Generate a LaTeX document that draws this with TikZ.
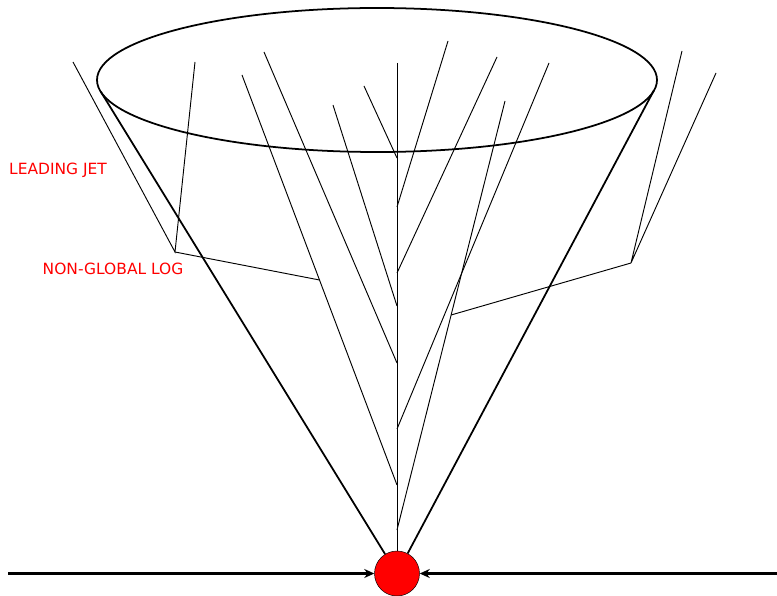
\documentclass[tikz,border=0pt]{standalone}
\usepackage{fontspec}
\setsansfont{DejaVu Sans}
\usetikzlibrary{arrows.meta}

\begin{document}
\begin{tikzpicture}[x=0.03cm,y=-0.03cm,
    parton/.style={line width=0.8pt},
    jetline/.style={line width=1.5pt},
    beam/.style={line width=2.6pt,-{Stealth[length=0.3cm,width=0.27cm]}},
    lbl/.style={anchor=base west,inner sep=0pt,text=red,
      font=\sffamily\fontsize{13.2}{15}\selectfont}]
  \useasboundingbox (0,0) rectangle (777,596);
  \node[circle,draw,fill=red,minimum size=1.35cm,inner sep=0pt] (V) at (397,573.5) {};
  \coordinate (bL) at (8,573.5); \coordinate (bR) at (777,573.5);
  \draw[beam] (bL) -- (V); \draw[beam] (bR) -- (V);
  \draw[jetline] (377,80) ellipse [x radius=280, y radius=72];
  \coordinate (tL) at (100.8,91.7); \coordinate (tR) at (654,90.2);
  \draw[jetline] (tL) -- (V); \draw[jetline] (tR) -- (V);
  \coordinate (s0) at (397,63);
  \draw[parton] (s0) -- (V);
  \foreach \n/\x/\y/\j in {a/364/86/158, b/333/105/306, c/264/52/363, d/242/75/485,
      e/448/41/207, f/497/57/273, g/549/63/429, h/505/101/530}{
    \coordinate (e\n) at (\x,\y); \coordinate (j\n) at (397,\j);
    \draw[parton] (e\n) -- (j\n);
  }
  \coordinate (nL) at (175,252); \coordinate (uL1) at (73,62);
  \coordinate (uL2) at (195,62); \coordinate (kL) at (319.5,280);
  \draw[parton] (uL1) -- (nL) -- (uL2); \draw[parton] (nL) -- (kL);
  \coordinate (nR) at (631,263); \coordinate (uR1) at (682,51);
  \coordinate (uR2) at (716,73); \coordinate (kR) at (451.1,315);
  \draw[parton] (uR1) -- (nR) -- (uR2); \draw[parton] (nR) -- (kR);
  \node[lbl] (lj) at (9,175) {LEADING JET};
  \node[lbl] (ngl) at (42.5,275) {NON-GLOBAL LOG};
\end{tikzpicture}
\end{document}
